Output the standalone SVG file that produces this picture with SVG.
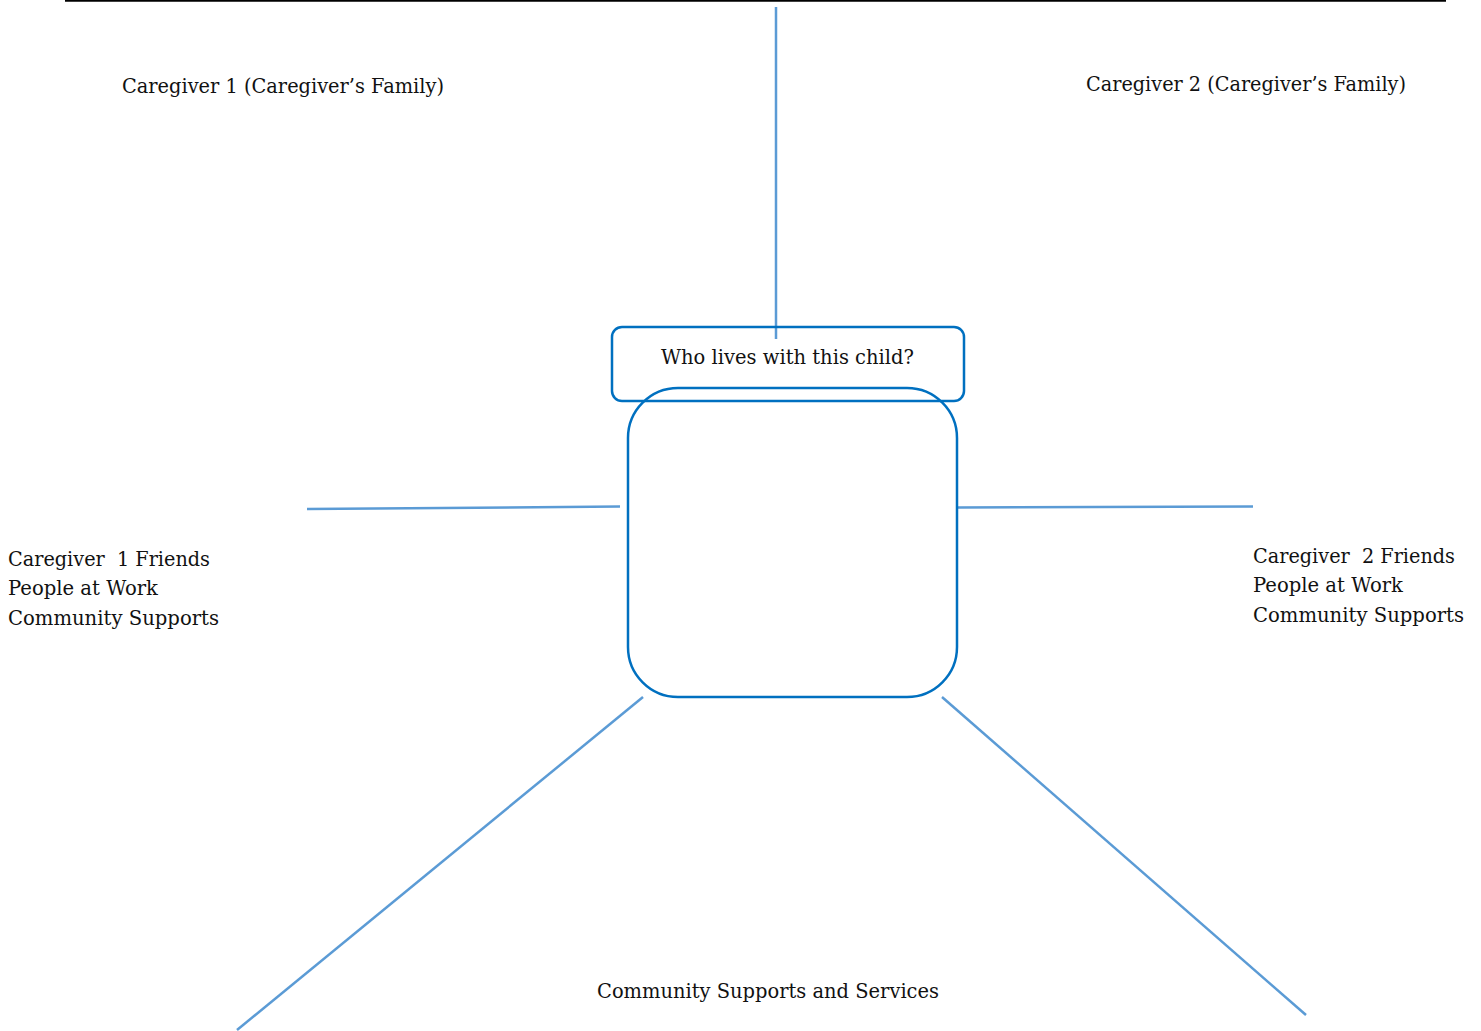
<svg xmlns="http://www.w3.org/2000/svg" width="1481" height="1031" viewBox="0 0 1481 1031">
<style>
text{font-family:"DejaVu Serif","Liberation Serif",serif;font-size:20px;fill:#111;white-space:pre}
.conn{stroke:#5B9BD5;stroke-width:2.5;fill:none}
.box{stroke:#0070C0;stroke-width:2.5;fill:none}
</style>
<rect width="1481" height="1031" fill="#fff"/>
<line x1="65" y1="0.5" x2="1446" y2="0.5" stroke="#000" stroke-width="2.5"/>
<g id="connectors">
<line class="conn" x1="776" y1="7" x2="776" y2="339"/>
<line class="conn" x1="307" y1="509" x2="620" y2="506.5"/>
<line class="conn" x1="958" y1="507.5" x2="1253" y2="506.5"/>
<line class="conn" x1="643" y1="697" x2="237" y2="1030"/>
<line class="conn" x1="942" y1="697" x2="1306" y2="1015"/>
</g>
<g id="node-question">
<rect class="box" x="612" y="327" width="352" height="74" rx="10"/>
<text x="661" y="364" textLength="253" lengthAdjust="spacingAndGlyphs">Who lives with this child?</text>
</g>
<g id="node-child">
<rect class="box" x="628" y="388" width="329" height="309" rx="50"/>
</g>
<g id="node-caregiver1-family">
<text x="122" y="93" textLength="322" lengthAdjust="spacingAndGlyphs">Caregiver 1 (Caregiver’s Family)</text>
</g>
<g id="node-caregiver2-family">
<text x="1086" y="91" textLength="320" lengthAdjust="spacingAndGlyphs">Caregiver 2 (Caregiver’s Family)</text>
</g>
<g id="node-caregiver1-friends">
<text x="8" y="566" textLength="202" lengthAdjust="spacingAndGlyphs">Caregiver  1 Friends</text>
<text x="8" y="595" textLength="150" lengthAdjust="spacingAndGlyphs">People at Work</text>
<text x="8" y="625" textLength="211" lengthAdjust="spacingAndGlyphs">Community Supports</text>
</g>
<g id="node-caregiver2-friends">
<text x="1253" y="563" textLength="202" lengthAdjust="spacingAndGlyphs">Caregiver  2 Friends</text>
<text x="1253" y="592" textLength="150" lengthAdjust="spacingAndGlyphs">People at Work</text>
<text x="1253" y="622" textLength="211" lengthAdjust="spacingAndGlyphs">Community Supports</text>
</g>
<g id="node-community">
<text x="597" y="998" textLength="342" lengthAdjust="spacingAndGlyphs">Community Supports and Services</text>
</g>
</svg>
